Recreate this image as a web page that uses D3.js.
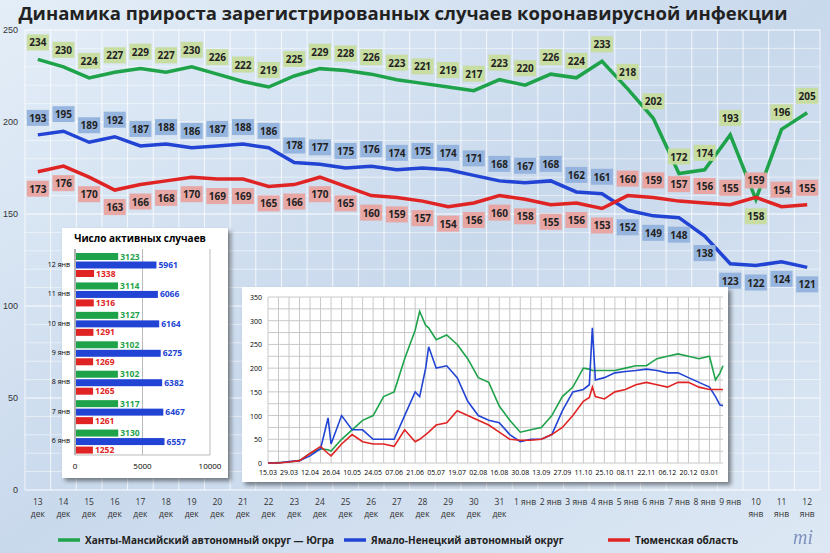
<!DOCTYPE html>
<html><head><meta charset="utf-8">
<script src="https://cdn.jsdelivr.net/npm/d3@7"></script>
<style>body{margin:0}svg{font-family:"Open Sans","DejaVu Sans",sans-serif}</style>
</head><body><svg id="c" width="830" height="553"></svg>
<script>
const categories=["13|дек","14|дек","15|дек","16|дек","17|дек","18|дек","19|дек","20|дек","21|дек","22|дек","23|дек","24|дек","25|дек","26|дек","27|дек","28|дек","29|дек","30|дек","31|дек","1 янв","2 янв","3 янв","4 янв","5 янв","6 янв","7 янв","8 янв","9 янв","10|янв","11|янв","12|янв"];
const hmao=[234,230,224,227,229,227,230,226,222,219,225,229,228,226,223,221,219,217,223,220,226,224,233,218,202,172,174,193,158,196,205];
const yanao=[193,195,189,192,187,188,186,187,188,186,178,177,175,176,174,175,174,171,168,167,168,162,161,152,149,148,138,123,122,124,121];
const tyumen=[173,176,170,163,166,168,170,169,169,165,166,170,165,160,159,157,154,156,160,158,155,156,153,160,159,157,156,155,159,154,155];
const yTicks=[0,50,100,150,200,250];
const seriesNames=["Ханты-Мансийский автономный округ — Югра","Ямало-Ненецкий автономный округ","Тюменская область"];
// inset: active cases
const activeDays=["6 янв","7 янв","8 янв","9 янв","10 янв","11 янв","12 янв"];
const activeHmao=[3130,3117,3102,3102,3127,3114,3123];
const activeYanao=[6557,6467,6382,6275,6164,6066,5961];
const activeTyumen=[1252,1261,1265,1269,1291,1316,1338];
// inset: daily since 15.03 (day offset)
const histDay=[0,7,14,21,28,35,40,42,49,56,63,70,77,84,91,98,101,105,107,112,119,126,133,140,147,154,161,168,175,182,189,196,203,210,214,216,218,224,231,238,245,252,259,266,273,280,287,294,298,301,303];
const histHmao=[0,1,2,5,20,30,28,25,50,70,90,100,140,150,220,280,320,290,285,260,270,250,220,180,170,120,90,65,70,75,100,140,160,200,198,195,195,195,195,200,205,205,220,225,230,225,220,225,175,190,205];
const histYanao=[0,0,3,5,15,30,95,40,100,70,70,50,50,50,100,150,140,200,245,200,205,180,130,100,90,85,60,45,50,50,60,110,150,155,165,285,175,180,190,193,195,198,195,190,190,180,170,160,140,122,121];
const histTyumen=[0,0,2,5,20,35,20,15,40,60,45,40,40,35,70,45,50,60,65,80,85,110,100,90,80,65,50,48,48,50,60,75,100,130,138,160,140,135,150,155,165,170,165,160,170,170,160,155,155,155,155];
const histTicks=["15.03","29.03","12.04","26.04","10.05","24.05","07.06","21.06","05.07","19.07","02.08","16.08","30.08","13.09","27.09","11.10","25.10","08.11","22.11","06.12","20.12","03.01"];

const colors=["#1ea34a","#2244d4","#e02424"];
const boxFill=["#c6dc9c","#92b2dc","#e8a3a0"];
const svg=d3.select("#c");
const defs=svg.append("defs");
const g0=defs.append("linearGradient").attr("id","bg").attr("x1",0).attr("y1",0).attr("x2",1).attr("y2",1);
g0.append("stop").attr("offset",0).attr("stop-color","#e4eef8");
g0.append("stop").attr("offset",0.5).attr("stop-color","#c9d9ec");
g0.append("stop").attr("offset",1).attr("stop-color","#dde8f4");
const fl=defs.append("filter").attr("id","sh").attr("x","-10%").attr("y","-10%").attr("width","130%").attr("height","130%");
fl.append("feDropShadow").attr("dx",3).attr("dy",3).attr("stdDeviation",2).attr("flood-color","#000").attr("flood-opacity",0.45);
svg.append("rect").attr("width",830).attr("height",553).attr("fill","url(#bg)");

svg.append("text").attr("x",403).attr("y",20).attr("text-anchor","middle").attr("font-size",18.5).attr("font-weight","bold").attr("fill","#222").text("Динамика прироста зарегистрированных случаев коронавирусной инфекции");

const x=d3.scaleBand().domain(categories).range([25,820]);
const y=d3.scaleLinear().domain([0,250]).range([490,30]);
const grid=svg.append("g");
grid.selectAll("line.h").data(d3.range(0,251,10)).join("line").attr("x1",25).attr("x2",820).attr("y1",d=>y(d)).attr("y2",d=>y(d)).attr("stroke","#fff").attr("stroke-opacity",d=>d%50?0.5:0.9);
grid.selectAll("line.v").data(categories.concat(["end"])).join("line").attr("x1",(d,i)=>25+i*x.bandwidth()).attr("x2",(d,i)=>25+i*x.bandwidth()).attr("y1",30).attr("y2",490).attr("stroke","#fff").attr("stroke-opacity",0.75);
const yAx=svg.append("g").attr("transform","translate(18,0)").call(d3.axisLeft(y).tickValues(yTicks).tickSize(0));
yAx.select(".domain").remove();
yAx.selectAll("text").attr("font-size",9).attr("fill","#333").attr("x",0).attr("text-anchor","end").attr("dx",0);
const xl=svg.append("g").selectAll("text").data(categories).join("text").attr("x",d=>x(d)+x.bandwidth()/2).attr("y",505).attr("text-anchor","middle").attr("font-size",8.5).attr("fill","#333");
xl.each(function(d){const p=d.split("|");const t=d3.select(this);t.append("tspan").attr("x",x(d)+x.bandwidth()/2).text(p[0]);if(p[1])t.append("tspan").attr("x",x(d)+x.bandwidth()/2).attr("dy",12).text(p[1]);});

const all=[hmao,yanao,tyumen];
const line=d3.line().x((d,i)=>x(categories[i])+x.bandwidth()/2).y(d=>y(d));
all.forEach((s,k)=>svg.append("path").attr("d",line(s)).attr("fill","none").attr("stroke",colors[k]).attr("stroke-width",3.5));
all.forEach((s,k)=>{
  s.forEach((v,i)=>{
    const cx=x(categories[i])+x.bandwidth()/2;
    const up=k===0?hmao[i]>tyumen[i]:k===1?yanao[i]>tyumen[i]:tyumen[i]>yanao[i];
    const cy=y(v)+(up?-17:17);
    const gg=svg.append("g");
    gg.append("rect").attr("x",cx-11).attr("y",cy-8).attr("width",22).attr("height",16).attr("fill",boxFill[k]).attr("opacity",0.95);
    gg.append("text").attr("x",cx).attr("y",cy+4).attr("text-anchor","middle").attr("font-size",10).attr("font-weight","bold").attr("fill","#222").text(v);
  });
});

// inset 1
const i1=svg.append("g");
i1.append("rect").attr("x",62).attr("y",228).attr("width",166).attr("height",250).attr("fill","#fff").attr("filter","url(#sh)");
i1.append("text").attr("x",140).attr("y",242).attr("text-anchor","middle").attr("font-size",10).attr("font-weight","bold").text("Число активных случаев");
const bx=d3.scaleLinear().domain([0,10000]).range([75,210]);
const by=d3.scaleBand().domain(activeDays.slice().reverse()).range([249,455]);
i1.selectAll("line.g").data([0,5000,10000]).join("line").attr("x1",d=>bx(d)).attr("x2",d=>bx(d)).attr("y1",249).attr("y2",455).attr("stroke","#bbb");
i1.append("line").attr("x1",75).attr("x2",75).attr("y1",249).attr("y2",455).attr("stroke","#888");
i1.append("line").attr("x1",75).attr("x2",210).attr("y1",455).attr("y2",455).attr("stroke","#bbb");
[0,5000,10000].forEach(t=>i1.append("text").attr("x",bx(t)).attr("y",469).attr("text-anchor","middle").attr("font-size",8).text(t));
const act=[activeHmao,activeYanao,activeTyumen];
activeDays.forEach((d,i)=>{
  const b=by(d),h=by.bandwidth();
  i1.append("text").attr("x",70).attr("y",b+h/2+3).attr("text-anchor","end").attr("font-size",7).text(d);
  act.forEach((s,k)=>{
    const yy=b+4+k*8.5;
    i1.append("rect").attr("x",bx(0)+1).attr("y",yy).attr("width",bx(s[i])-bx(0)).attr("height",7).attr("fill",colors[k]);
    i1.append("text").attr("x",bx(s[i])+3).attr("y",yy+6.5).attr("font-size",8.5).attr("font-weight","bold").attr("fill",colors[k]).text(s[i]);
  });
});

// inset 2
const i2=svg.append("g");
i2.append("rect").attr("x",242).attr("y",287).attr("width",486).attr("height",195).attr("fill","#fff").attr("filter","url(#sh)");
const hx=d3.scaleLinear().domain([0,303]).range([268,723]);
const hy=d3.scaleLinear().domain([0,350]).range([463,297]);
i2.selectAll("line.hh").data(d3.range(0,351,25)).join("line").attr("x1",268).attr("x2",723).attr("y1",d=>hy(d)).attr("y2",d=>hy(d)).attr("stroke","#c8c8c8");
i2.selectAll("line.vv").data(d3.range(0,304,7)).join("line").attr("x1",d=>hx(d)).attr("x2",d=>hx(d)).attr("y1",297).attr("y2",463).attr("stroke","#c8c8c8");
[0,50,100,150,200,250,300,350].forEach(t=>i2.append("text").attr("x",262).attr("y",hy(t)+3).attr("text-anchor","end").attr("font-size",7).text(t));
histTicks.forEach((t,i)=>i2.append("text").attr("x",hx(i*14)).attr("y",475).attr("text-anchor","middle").attr("font-size",7).text(t));
const hl=d3.line().x((d,i)=>hx(histDay[i])).y(d=>hy(d));
[histHmao,histYanao,histTyumen].forEach((s,k)=>i2.append("path").attr("d",hl(s)).attr("fill","none").attr("stroke",colors[k]).attr("stroke-width",1.6));

// legend
const lx=[58,344,608];
seriesNames.forEach((n,k)=>{
  svg.append("line").attr("x1",lx[k]).attr("x2",lx[k]+22).attr("y1",540).attr("y2",540).attr("stroke",colors[k]).attr("stroke-width",3.5);
  svg.append("text").attr("x",lx[k]+27).attr("y",544).attr("font-size",10).attr("font-weight","bold").attr("fill","#222").text(n);
});
svg.append("text").attr("x",803).attr("y",544).attr("text-anchor","middle").attr("font-size",20).attr("font-style","italic").attr("font-family","Liberation Serif").attr("fill","#5a6fa8").attr("opacity",0.7).text("mi");
</script></body></html>
